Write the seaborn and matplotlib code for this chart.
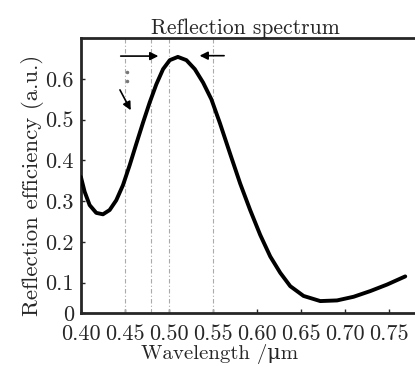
import numpy as np
import pandas as pd
import matplotlib
matplotlib.use("Agg")
import matplotlib.pyplot as plt
import seaborn as sns

# =========================
# DATA
# =========================
wavelength = [0.400, 0.4042, 0.4099, 0.4174, 0.425, 0.4326, 0.4401, 0.4477,
              0.4553, 0.4629, 0.4705, 0.478, 0.4856, 0.4932, 0.5008, 0.510,
              0.5197, 0.5292, 0.5386, 0.548, 0.5576, 0.5693, 0.5807, 0.592,
              0.6034, 0.6148, 0.6261, 0.6375, 0.6526, 0.6716, 0.6906, 0.7094,
              0.7284, 0.7474, 0.768]
reflection = [0.359, 0.323, 0.290, 0.271, 0.2675, 0.278, 0.302, 0.339,
              0.388, 0.441, 0.493, 0.542, 0.587, 0.624, 0.646, 0.654,
              0.646, 0.624, 0.591, 0.550, 0.492, 0.416, 0.343, 0.278,
              0.217, 0.164, 0.124, 0.091, 0.067, 0.0544, 0.056, 0.065,
              0.079, 0.095, 0.115]

marker_lines = [0.45, 0.48, 0.50, 0.55]
xticks = [0.40, 0.45, 0.50, 0.55, 0.60, 0.65, 0.70, 0.75]
yticks = [0.1, 0.2, 0.3, 0.4, 0.5, 0.6]

# =========================
# STYLE
# =========================
sns.set_style("ticks")
plt.rcParams['font.family'] = ['cmr10', 'DejaVu Serif']
plt.rcParams['axes.formatter.use_mathtext'] = True
plt.rcParams['mathtext.fontset'] = 'cm'

df = pd.DataFrame({"wavelength": wavelength, "reflection": reflection})

fig = plt.figure(figsize=(4.15, 3.67), dpi=100)
ax = fig.add_axes([0.195, 0.147, 0.807, 0.749])

for xv in marker_lines:
    ax.axvline(xv, color='#aaaaaa', linestyle=(0, (4, 2, 1, 2)), linewidth=0.8, zorder=1)

sns.lineplot(data=df, x="wavelength", y="reflection", color='black',
             linewidth=2.8, ax=ax, zorder=3, solid_joinstyle='round',
             solid_capstyle='round')

# arrows
arrow_kw = dict(arrowstyle='-|>', color='black', lw=1.2, mutation_scale=12)
ax.annotate('', xy=(0.491, 0.656), xytext=(0.442, 0.656), arrowprops=arrow_kw)
ax.annotate('', xy=(0.5315, 0.657), xytext=(0.5656, 0.657), arrowprops=arrow_kw)
ax.annotate('', xy=(0.458, 0.517), xytext=(0.4428, 0.579), arrowprops=arrow_kw)
ax.plot([0.4525, 0.4525], [0.617, 0.595], 'o', color='#777777', markersize=1.5)

ax.set_xlim(0.40, 0.78)
ax.set_ylim(0.025, 0.70)
ax.set_xticks(xticks)
ax.set_xticklabels([f"{v:.2f}" for v in xticks])
ax.set_yticks([0.025] + yticks)
ax.set_yticklabels(["0"] + [f"{v:.1f}" for v in yticks])
ax.tick_params(direction='in', length=3, width=1, labelsize=16, pad=5)
ax.tick_params(axis='x', pad=8)

for side in ['left', 'bottom', 'top']:
    ax.spines[side].set_linewidth(2)
ax.spines['right'].set_visible(False)

ax.set_title("Reflection spectrum", fontsize=15.5, pad=3, x=0.49)
ax.set_xlabel("Wavelength /μm", fontsize=15, labelpad=0)
ax.xaxis.label.set_x(0.413)
ax.set_ylabel("Reflection efficiency (a.u.)", fontsize=16.5, labelpad=1)
ax.yaxis.label.set_y(0.465)

fig.savefig("out.png", dpi=100)
